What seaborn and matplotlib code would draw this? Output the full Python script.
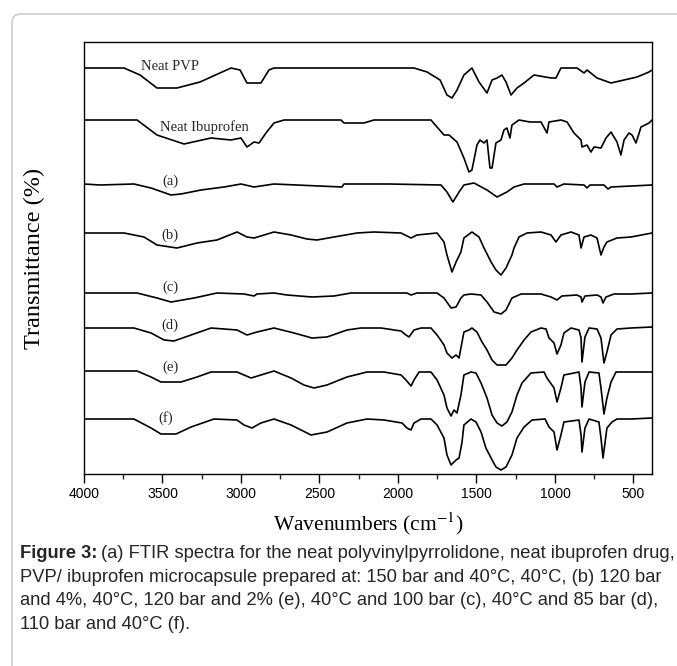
import matplotlib
matplotlib.use("Agg")
import matplotlib.pyplot as plt
from matplotlib.patches import FancyBboxPatch
from matplotlib.ticker import MultipleLocator
import seaborn as sns
import pandas as pd

# FTIR spectra: wavenumber (cm-1) and offset transmittance (a.u.)
pvp_wn = [4000, 3745, 3643, 3535, 3408, 3261, 3064, 3006, 2962, 2873, 2822, 2790, 1898, 1815,
          1732, 1688, 1656, 1624, 1580, 1529, 1484, 1433, 1401, 1369, 1338, 1312, 1280, 1242,
          1197, 1134, 1025, 994, 962, 860, 815, 796, 732, 643, 560, 477, 401, 382]
pvp_t = [406, 406, 399, 386, 386, 392, 406, 404, 391, 391, 404, 406, 406, 402,
         394, 379, 376, 384, 399, 406, 392, 381, 394, 396, 399, 392, 379, 386,
         391, 399, 396, 396, 406, 406, 401, 404, 396, 391, 394, 397, 402, 404]

ibu_wn = [4000, 3662, 3535, 3363, 3191, 3064, 3000, 2962, 2917, 2885, 2841, 2790, 2726, 2363,
          2344, 2217, 2153, 1790, 1707, 1675, 1624, 1580, 1548, 1529, 1497, 1478, 1452, 1433,
          1414, 1401, 1376, 1344, 1325, 1306, 1287, 1274, 1229, 1159, 1089, 1051, 1038, 962,
          923, 879, 834, 828, 796, 771, 751, 707, 675, 643, 624, 605, 580, 560, 529, 509,
          484, 452, 401, 382]
ibu_t = [354, 354, 339, 330, 336, 334, 336, 327, 332, 331, 341, 351, 354, 354,
         351, 351, 354, 354, 339, 339, 332, 316, 302, 304, 329, 334, 331, 334,
         306, 306, 331, 334, 344, 346, 336, 349, 354, 352, 352, 341, 352, 354,
         352, 341, 334, 327, 329, 322, 327, 326, 336, 342, 337, 332, 319, 334, 341, 339,
         331, 347, 351, 354]

a_wn = [4000, 3898, 3682, 3573, 3446, 3382, 3255, 3108, 3000, 2917, 2790, 2357, 2344, 2057,
        1726, 1688, 1650, 1611, 1580, 1516, 1433, 1369, 1306, 1261, 1197, 1006, 987, 943,
        815, 796, 777, 688, 662, 643, 382]
a_t = [290, 289, 290, 286, 279, 280, 284, 287, 290, 287, 290, 287, 290, 290,
       289, 282, 272, 282, 289, 291, 284, 277, 282, 287, 290, 290, 287, 290,
       289, 286, 289, 289, 285, 287, 289]

b_wn = [4000, 3745, 3618, 3535, 3408, 3280, 3153, 3025, 2962, 2917, 2853, 2790, 2681, 2580,
        2516, 2408, 2261, 2153, 1981, 1917, 1879, 1751, 1707, 1688, 1656, 1630, 1599, 1580,
        1529, 1484, 1452, 1407, 1376, 1344, 1312, 1274, 1261, 1229, 1178, 1089, 1025, 994,
        962, 898, 847, 834, 815, 771, 732, 707, 688, 669, 605, 516, 382]
b_t = [241, 241, 237, 229, 226, 231, 234, 242, 237, 236, 239, 242, 239, 235,
       234, 237, 241, 242, 241, 236, 239, 241, 232, 219, 202, 212, 222, 236,
       242, 237, 226, 212, 204, 199, 206, 219, 226, 237, 241, 242, 239, 232,
       239, 242, 239, 226, 237, 239, 236, 219, 227, 232, 236, 237, 241]

c_wn = [4000, 3662, 3535, 3446, 3408, 3299, 3153, 2981, 2917, 2898, 2790, 2707, 2548, 2408,
        2299, 1943, 1917, 1879, 1751, 1707, 1662, 1630, 1599, 1580, 1535, 1471, 1433, 1388,
        1344, 1312, 1274, 1216, 1089, 1025, 987, 956, 860, 834, 828, 809, 732, 707, 694,
        675, 624, 516, 382]
c_t = [181, 181, 176, 172, 173, 176, 181, 180, 178, 180, 181, 179, 177, 178,
       181, 181, 179, 181, 181, 176, 166, 167, 176, 179, 180, 179, 172, 162,
       160, 164, 176, 180, 180, 177, 174, 178, 179, 177, 172, 178, 179, 177, 171,
       177, 180, 180, 181]

d_wn = [4000, 3682, 3573, 3490, 3427, 3318, 3191, 3025, 2962, 2898, 2790, 2662, 2548, 2452,
        2325, 2236, 2108, 1981, 1949, 1930, 1898, 1853, 1790, 1751, 1707, 1688, 1656, 1630,
        1611, 1592, 1580, 1548, 1529, 1497, 1465, 1433, 1401, 1369, 1312, 1274, 1242, 1197,
        1153, 1089, 1057, 1038, 1006, 987, 962, 943, 898, 847, 834, 828, 809, 783, 732,
        707, 688, 669, 643, 605, 516, 382]
d_t = [146, 146, 141, 134, 133, 139, 146, 144, 139, 142, 146, 141, 136, 137,
       144, 146, 146, 143, 139, 137, 144, 146, 146, 139, 129, 121, 116, 119,
       116, 132, 142, 144, 146, 142, 132, 124, 114, 109, 109, 116, 124, 134,
       142, 146, 145, 136, 131, 120, 129, 141, 146, 144, 136, 112, 137, 146, 145,
       136, 111, 122, 139, 145, 146, 147]

e_wn = [4000, 3662, 3573, 3510, 3382, 3280, 3191, 3025, 2981, 2936, 2873, 2790, 2681, 2599,
        2535, 2452, 2325, 2197, 2089, 1981, 1949, 1917, 1898, 1866, 1790, 1751, 1707, 1688,
        1662, 1643, 1624, 1599, 1580, 1535, 1503, 1471, 1433, 1401, 1369, 1338, 1306, 1274,
        1242, 1210, 1153, 1070, 1051, 1006, 987, 962, 943, 847, 834, 828, 809, 783, 720,
        707, 688, 669, 643, 611, 516, 382]
e_t = [103, 103, 97, 92, 92, 97, 102, 102, 99, 96, 99, 103, 96, 89,
       86, 89, 97, 102, 102, 99, 94, 88, 94, 102, 102, 94, 79, 66,
       58, 64, 61, 79, 99, 102, 101, 91, 76, 59, 51, 48, 52, 62,
       79, 91, 101, 102, 96, 86, 72, 86, 99, 102, 86, 67, 92, 102, 101,
       86, 60, 76, 92, 102, 102, 102]

f_wn = [4000, 3682, 3573, 3510, 3414, 3318, 3172, 3025, 2981, 2930, 2873, 2790, 2681, 2554,
        2452, 2325, 2197, 2089, 1974, 1943, 1917, 1898, 1853, 1790, 1751, 1707, 1688, 1662,
        1630, 1611, 1592, 1580, 1535, 1503, 1471, 1440, 1407, 1376, 1344, 1312, 1274, 1242,
        1197, 1146, 1063, 1038, 1006, 987, 962, 943, 847, 834, 828, 809, 783, 720, 707,
        694, 669, 637, 605, 516, 382]
f_t = [55, 55, 46, 40, 40, 47, 55, 54, 49, 46, 51, 55, 49, 39,
       42, 51, 55, 54, 51, 46, 44, 51, 55, 55, 49, 36, 19, 9,
       14, 16, 32, 49, 55, 52, 42, 26, 16, 7, 4, 7, 19, 36,
       47, 54, 55, 47, 42, 24, 39, 52, 54, 39, 22, 46, 55, 52, 36,
       16, 46, 52, 55, 55, 56]

labels = ["Neat PVP", "Neat Ibuprofen", "(a)", "(b)", "(c)", "(d)", "(e)", "(f)"]
label_wn = [3452, 3236, 3452, 3452, 3452, 3452, 3452, 3478]
label_t = [407, 347, 293, 239, 187, 149, 107, 56]

curves = [(pvp_wn, pvp_t), (ibu_wn, ibu_t), (a_wn, a_t), (b_wn, b_t),
          (c_wn, c_t), (d_wn, d_t), (e_wn, e_t), (f_wn, f_t)]
df = pd.concat([pd.DataFrame({"wn": w, "t": t, "sample": name})
                for name, (w, t) in zip(labels, curves)], ignore_index=True)

sns.set_theme(style="white")
plt.rcParams["font.family"] = ["Liberation Sans", "DejaVu Sans"]
plt.rcParams["mathtext.fontset"] = "stix"
serif = ["Liberation Serif", "DejaVu Serif"]

fig = plt.figure(figsize=(6.77, 6.66), dpi=100)
ax = fig.add_axes([84 / 677, 1 - 474 / 666, 568 / 677, 432 / 666])

sns.lineplot(data=df, x="wn", y="t", units="sample", estimator=None, sort=False,
             color="black", linewidth=1.2, ax=ax)

for name, x, y in zip(labels, label_wn, label_t):
    ax.text(x, y, name, ha="center", va="center", fontsize=10.5, family=serif)

ax.set_xlim(4000, 382)
ax.set_ylim(0, 432)
ax.xaxis.set_major_locator(MultipleLocator(500))
ax.xaxis.set_minor_locator(MultipleLocator(250))
ax.set_yticks([])
ax.tick_params(axis="x", which="major", direction="out", length=6.5, width=1,
               bottom=True, labelsize=10, pad=3, colors="black")
ax.tick_params(axis="x", which="minor", direction="out", length=3.6, width=1, bottom=True)
for s in ax.spines.values():
    s.set_color("black")
    s.set_linewidth(1.0)

ax.set_xlabel("Wavenumbers (cm$^{-1}$)", fontsize=15.5, family=serif,
              labelpad=7, color="black")
ax.set_ylabel("Transmittance (%)", fontsize=17.5, family=serif,
              labelpad=28, color="black")

# outer frame of the figure panel
frame = FancyBboxPatch((12 / 677, -0.05), 1.2, 1 - 14 / 666 + 0.05,
                       boxstyle="round,pad=0,rounding_size=0.013",
                       transform=fig.transFigure, facecolor="none",
                       edgecolor="#c4c4c4", linewidth=1.0)
fig.patches.append(frame)

cap_size = 13.2
head = fig.text(20 / 677, 1 - 554 / 666, "Figure 3:", fontsize=cap_size,
                fontweight="bold", va="center")
renderer = fig.canvas.get_renderer()
head_end = head.get_window_extent(renderer).x1 / fig.bbox.width
fig.text(head_end + 4 / 677, 1 - 554 / 666,
         "(a) FTIR spectra for the neat polyvinylpyrrolidone, neat ibuprofen drug,",
         fontsize=cap_size, va="center")
caption_rest = [
    "PVP/ ibuprofen microcapsule prepared at: 150 bar and 40°C, 40°C, (b) 120 bar",
    "and 4%, 40°C, 120 bar and 2% (e), 40°C and 100 bar (c), 40°C and 85 bar (d),",
    "110 bar and 40°C (f).",
]
for i, line in enumerate(caption_rest):
    fig.text(20 / 677, 1 - (577.5 + 23.3 * i) / 666, line, fontsize=cap_size, va="center")

fig.savefig("out.png", dpi=100)
